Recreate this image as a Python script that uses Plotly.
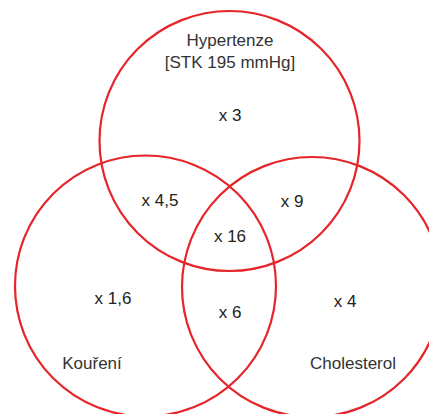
import plotly.graph_objects as go

# Data: set names and relative-risk factors per region
set_names = ["Hypertenze<br>[STK 195 mmHg]", "Kouření", "Cholesterol"]
region_labels = ["x 3", "x 1,6", "x 4", "x 4,5", "x 9", "x 6", "x 16"]

W, H = 437, 414
OFF = 8  # default page body margin
# circle geometry in viewport pixel coordinates (y downward)
circles = [(229.5, 141, 130), (145.5, 286, 130.5), (312, 287, 130)]
name_pos = [(230, 52.5), (92, 365), (353, 365)]
region_pos = [(230, 117), (113, 300), (345, 303), (160, 202), (292, 203), (230, 314), (230, 238)]

FONT = "Liberation Sans, Arial, sans-serif"
fig = go.Figure()
fig.add_trace(go.Scatter(
    x=[p[0] for p in region_pos], y=[p[1] for p in region_pos],
    text=region_labels, mode="text", textposition="middle center",
    textfont=dict(family=FONT, size=17, color="#222222"),
    hoverinfo="skip", showlegend=False, cliponaxis=False))
fig.add_trace(go.Scatter(
    x=[p[0] for p in name_pos], y=[p[1] for p in name_pos],
    text=set_names, mode="text", textposition="middle center",
    textfont=dict(family=FONT, size=17, color="#333333"),
    hoverinfo="skip", showlegend=False, cliponaxis=False))

for cx, cy, r in circles:
    fig.add_shape(type="circle", xref="x", yref="y",
                  x0=cx - r, x1=cx + r, y0=cy - r, y1=cy + r,
                  line=dict(color="#e5252a", width=2.2), fillcolor="rgba(0,0,0,0)")

fig.update_layout(
    width=W - OFF, height=H - OFF, margin=dict(l=0, r=0, t=0, b=0),
    paper_bgcolor="white", plot_bgcolor="white",
    xaxis=dict(range=[OFF, W], visible=False, fixedrange=True),
    yaxis=dict(range=[H, OFF], visible=False, fixedrange=True),
)
fig.write_html("out.html")
